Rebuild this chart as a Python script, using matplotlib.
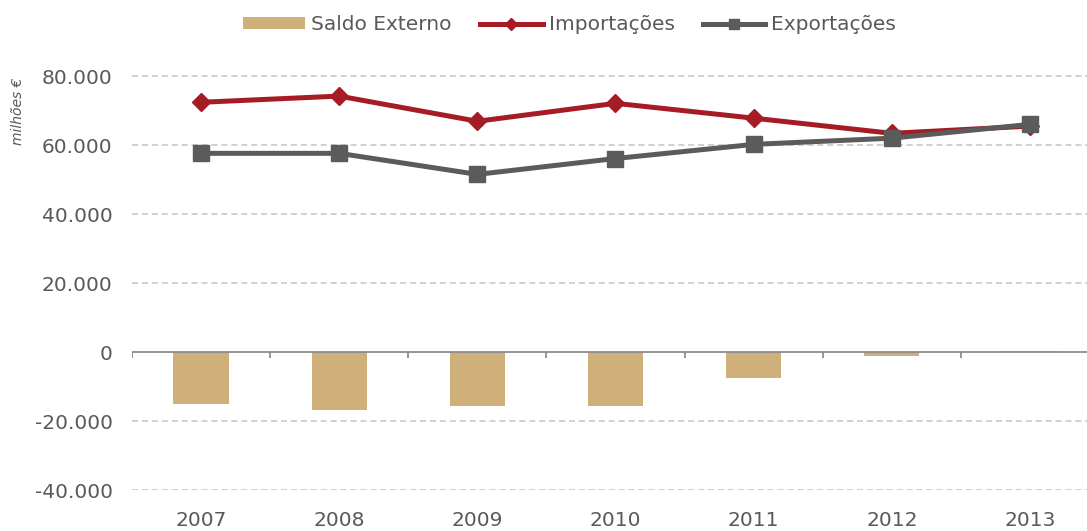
import matplotlib.pyplot as plt
import numpy as np
from matplotlib.ticker import FuncFormatter
from matplotlib.lines import Line2D
from matplotlib.patches import Patch

# Dados (milhões €)
anos = ['2007', '2008', '2009', '2010', '2011', '2012', '2013']
importacoes = [72400, 74200, 66900, 72100, 67800, 63400, 65500]
exportacoes = [57600, 57600, 51500, 56100, 60200, 62000, 66000]
saldo_externo = [-15100, -16900, -15700, -15700, -7600, -1200, 300]

COR_SALDO = '#D0B07A'
COR_IMP = '#A51C24'
COR_EXP = '#5A5B5A'
COR_TEXTO = '#595959'
FS = 14.5

plt.rcParams['font.family'] = ['DejaVu Sans']

fig = plt.figure(figsize=(10.87, 5.31), dpi=100)
ax = fig.add_axes([0.1214, 0.0772, 0.8786, 0.8315])

x = np.arange(len(anos))

# barras do saldo
ax.bar(x, saldo_externo, width=0.4, color=COR_SALDO, zorder=2)

# linhas
ax.plot(x, importacoes, color=COR_IMP, lw=3.6, marker='D', ms=9, zorder=3)
ax.plot(x, exportacoes, color=COR_EXP, lw=3.6, marker='s', ms=12, zorder=4)

ax.set_xlim(-0.5, 6.413)
ax.set_ylim(-40000, 88000)
ax.set_yticks(np.arange(-40000, 80001, 20000))
ax.yaxis.set_major_formatter(FuncFormatter(lambda v, p: f'{int(v):,}'.replace(',', '.')))

# grelha tracejada
for v in np.arange(-40000, 80001, 20000):
    if v != 0:
        ax.axhline(v, color='#C4C4C4', lw=1.1, ls=(0, (4, 2.5)), zorder=1)

# eixo no zero com marcas entre as categorias
ax.axhline(0, color='#8C8C8C', lw=1.3, zorder=5)
ax.vlines(np.arange(-0.5, 6.5, 1.0), -1600, 0, color='#8C8C8C', lw=1.3, zorder=5)

ax.set_xticks(x)
ax.set_xticklabels(anos)
ax.tick_params(axis='x', length=0, pad=15, labelsize=FS, labelcolor=COR_TEXTO)
ax.tick_params(axis='y', length=0, pad=14, labelsize=FS, labelcolor=COR_TEXTO)

for s in ax.spines.values():
    s.set_visible(False)

fig.text(0.017, 0.79, 'milhões €', rotation=90, style='italic', fontsize=10,
         color=COR_TEXTO, ha='center', va='center')

handles = [
    Patch(facecolor=COR_SALDO, edgecolor='none'),
    Line2D([], [], color=COR_IMP, lw=3.6, marker='D', ms=6),
    Line2D([], [], color=COR_EXP, lw=3.6, marker='s', ms=7),
]
leg = fig.legend(handles, ['Saldo Externo', 'Importações', 'Exportações'],
                 loc='center', bbox_to_anchor=(0.524, 0.953), ncol=3, frameon=False,
                 fontsize=FS, handlelength=3.1, handleheight=0.55,
                 columnspacing=1.4, handletextpad=0.3)
for t in leg.get_texts():
    t.set_color(COR_TEXTO)

fig.savefig('out.png', dpi=100)
